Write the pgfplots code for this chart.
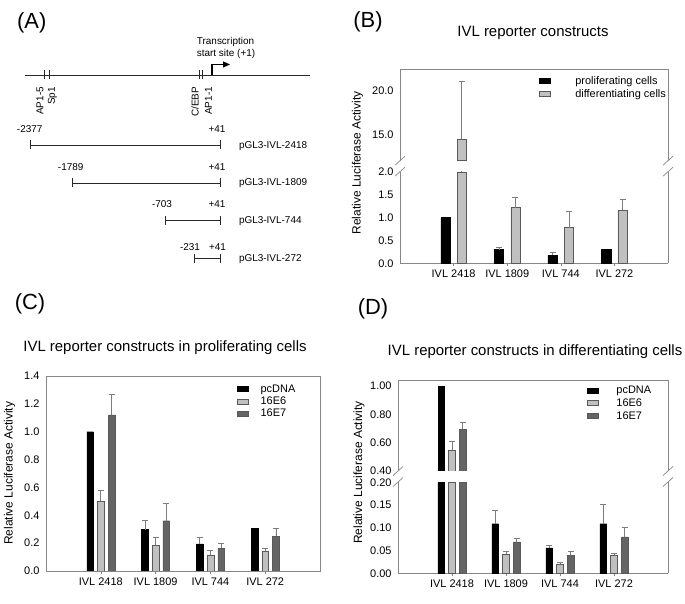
\documentclass[border=0pt]{standalone}
\usepackage{fontspec}
\setmainfont{Liberation Sans}
\usepackage{pgfplots}
\pgfplotsset{compat=1.18}
\usetikzlibrary{arrows.meta}

\definecolor{barlight}{RGB}{192,192,192}
\definecolor{bardark}{RGB}{100,100,100}
\definecolor{axisgray}{RGB}{135,135,135}
\definecolor{errgray}{RGB}{125,125,125}
\definecolor{outl}{RGB}{90,90,90}
\definecolor{diag}{RGB}{40,40,40}

\pgfplotsset{
  panel/.style={
    scale only axis,
    anchor=south west,
    xmin=0, xmax=5,
    xtick={1,2,3,4},
    xticklabels={IVL 2418, IVL 1809, IVL 744, IVL 272},
    tick align=outside,
    major tick length=3bp,
    ytick style={draw=none},
    xtick style={draw=axisgray, line width=0.6bp},
    axis line style={draw=axisgray, line width=0.7bp, -},
    tick label style={font=\fontsize{11}{13}\selectfont},
    /pgf/number format/assume math mode=true,
  },
  errs/.style={
    error bars/.cd, y dir=plus, y explicit,
    error bar style={draw=errgray, line width=0.7bp, xshift=#1},
    error mark options={rotate=90, mark size=3bp, draw=errgray, line width=0.7bp},
  },
  leg/.style={
    legend style={draw=none, fill=none, inner sep=0pt,
      font=\fontsize{11}{13}\selectfont,
      nodes={inner sep=0.6bp},
      row sep=#1},
    legend cell align=left,
    legend image code/.code={\draw[##1] (0bp,-2.5bp) rectangle (11bp,2.5bp);},
  },
}

\begin{document}
\begin{tikzpicture}[x=1bp,y=1bp]
\useasboundingbox (0,0) rectangle (685,604);

% ---------- master axis: panel A and text ----------
\begin{axis}[at={(0bp,0bp)}, anchor=south west, scale only axis,
  width=685bp, height=604bp, xmin=0, xmax=685, ymin=-604, ymax=0,
  hide axis, clip=false]
% main genomic line
\addplot[diag, line width=0.9bp] coordinates {(25,-75) (310,-75)};
% element ticks
\addplot[diag, line width=0.8bp, unbounded coords=jump] coordinates {
  (44.3,-70.5) (44.3,-79.5) (nan,nan)
  (49.3,-70.5) (49.3,-79.5) (nan,nan)
  (199,-70.5) (199,-79.5) (nan,nan)
  (202.6,-70.5) (202.6,-79.5)};
% transcription start arrow
\addplot[black, line width=1.1bp, -{Triangle[length=7bp,width=6bp]}] coordinates {(212,-75) (212,-64.5) (230,-64.5)};
% constructs
\addplot[diag, line width=0.8bp, unbounded coords=jump] coordinates {
  (30.7,-145) (220.3,-145) (nan,nan) (30.7,-140.5) (30.7,-149.5) (nan,nan) (220.3,-140.5) (220.3,-149.5) (nan,nan)
  (72.7,-183) (220.3,-183) (nan,nan) (72.7,-178.5) (72.7,-187.5) (nan,nan) (220.3,-178.5) (220.3,-187.5) (nan,nan)
  (165.7,-220.7) (220.3,-220.7) (nan,nan) (165.7,-216.2) (165.7,-225.2) (nan,nan) (220.3,-216.2) (220.3,-225.2) (nan,nan)
  (194.3,-258.3) (220.3,-258.3) (nan,nan) (194.3,-253.8) (194.3,-262.8) (nan,nan) (220.3,-253.8) (220.3,-262.8)};

\begin{scope}[font=\fontsize{10}{12}\selectfont]
\node at (axis cs:225.5,-41.5) {Transcription};
\node at (axis cs:226,-53.5) {start site (+1)};
\node[rotate=90, anchor=east] at (axis cs:40,-83.5) {AP1-5};
\node[rotate=90, anchor=east] at (axis cs:52.5,-83.5) {Sp1};
\node[rotate=90, anchor=east] at (axis cs:195,-83.5) {C/EBP};
\node[rotate=90, anchor=east] at (axis cs:208.5,-83.5) {AP1-1};
\node at (axis cs:29.7,-129) {-2377};
\node at (axis cs:217,-129) {+41};
\node at (axis cs:70.7,-166.7) {-1789};
\node at (axis cs:217,-166.7) {+41};
\node at (axis cs:162,-204.3) {-703};
\node at (axis cs:217,-204.3) {+41};
\node at (axis cs:190,-246.7) {-231};
\node at (axis cs:217.5,-246.7) {+41};
\node[anchor=west] at (axis cs:235.5,-145.7) {pGL3-IVL-2418};
\node[anchor=west] at (axis cs:235.5,-183.3) {pGL3-IVL-1809};
\node[anchor=west] at (axis cs:235.5,-221) {pGL3-IVL-744};
\node[anchor=west] at (axis cs:235.5,-258.7) {pGL3-IVL-272};
\end{scope}

% panel labels
\begin{scope}[font=\fontsize{22}{26}\selectfont]
\node at (axis cs:31.7,-22.5) {(A)};
\node at (axis cs:368,-22) {(B)};
\node at (axis cs:30,-304) {(C)};
\node at (axis cs:373,-308.5) {(D)};
\end{scope}

% titles
\begin{scope}[font=\fontsize{15}{18}\selectfont]
\node at (axis cs:533,-33) {IVL reporter constructs};
\node at (axis cs:165,-347.5) {IVL reporter constructs in proliferating cells};
\node at (axis cs:535,-352) {IVL reporter constructs in differentiating cells};
\end{scope}

% y labels
\begin{scope}[font=\fontsize{12}{14}\selectfont]
\node[rotate=90] at (axis cs:357.5,-163) {Relative Luciferase Activity};
\node[rotate=90] at (axis cs:9.5,-473.3) {Relative Luciferase Activity};
\node[rotate=90] at (axis cs:359,-472.5) {Relative Luciferase Activity};
\end{scope}

% axis break marks
\addplot[axisgray, line width=0.7bp, unbounded coords=jump] coordinates {
  (395,-165.2) (405,-156.2) (nan,nan) (395,-176.2) (405,-167.2) (nan,nan)
  (663,-165.2) (673,-156.2) (nan,nan) (663,-176.2) (673,-167.2) (nan,nan)
  (393,-475.5) (403,-466.5) (nan,nan) (393,-486.5) (403,-477.5) (nan,nan)
  (663,-475.5) (673,-466.5) (nan,nan) (663,-486.5) (673,-477.5)};
\end{axis}

% ---------- panel B lower ----------
\begin{axis}[panel, at={(400bp,340.7bp)}, width=268bp, height=91.3bp,
  ymin=0, ymax=2, ytick={0,0.5,1,1.5,2},
  axis x line*=bottom, axis y line*=box,
  yticklabel style={/pgf/number format/.cd, fixed, fixed zerofill, precision=1},
  restrict y to domain*=0:2]
\addplot[ybar, bar width=9.3bp, bar shift=-8.2bp, fill=black, draw=black] coordinates {
  (1,1.00) (2,0.30) (3,0.18) (4,0.30)};
\addplot[forget plot, draw=none, mark=none, errs=-8.2bp] coordinates {
  (2,0.30) +- (0,0.06) (3,0.18) +- (0,0.06)};
\addplot[ybar, bar width=9.3bp, bar shift=8.2bp, fill=barlight, draw=outl, errs=8.2bp] coordinates {
  (1,14.45) +- (0,6.65) (2,1.22) +- (0,0.23) (3,0.78) +- (0,0.35) (4,1.16) +- (0,0.25)};
\end{axis}

% ---------- panel B upper ----------
\begin{axis}[panel, at={(400bp,443.3bp)}, width=268bp, height=91.7bp,
  ymin=12, ymax=22.5, ytick={15,20}, xtick=\empty,
  axis x line*=top, axis y line*=box,
  yticklabel style={/pgf/number format/.cd, fixed, fixed zerofill, precision=1},
  restrict y to domain=12:22.5,
  leg=2.5bp,
  legend style={at={(0.519,0.93)}, anchor=north west,
    /tikz/every odd column/.append style={column sep=24bp}}]
\addlegendimage{fill=black, draw=black}
\addlegendentry{proliferating cells}
\addlegendimage{fill=barlight, draw=outl}
\addlegendentry{differentiating cells}
\addplot[forget plot, ybar, bar width=9.3bp, bar shift=8.2bp, fill=barlight, draw=outl, errs=8.2bp] coordinates {
  (1,14.45) +- (0,6.65) (2,1.22) +- (0,0.23) (3,0.78) +- (0,0.35) (4,1.16) +- (0,0.25)};
\end{axis}

% ---------- panel C ----------
\begin{axis}[panel, at={(46bp,33bp)}, width=274bp, height=195bp,
  ymin=0, ymax=1.4, ytick={0,0.2,0.4,0.6,0.8,1.0,1.2,1.4},
  xtick pos=left,
  yticklabel style={/pgf/number format/.cd, fixed, fixed zerofill, precision=1},
  leg=2bp,
  legend style={at={(0.695,0.96)}, anchor=north west,
    /tikz/every odd column/.append style={column sep=12bp}}]
\addplot[ybar, bar width=6.7bp, bar shift=-10.7bp, fill=black, draw=black] coordinates {
  (1,1.00) (2,0.297) (3,0.194) (4,0.304)};
\addlegendentry{pcDNA}
\addplot[forget plot, draw=none, mark=none, errs=-10.7bp] coordinates {
  (2,0.297) +- (0,0.067) (3,0.194) +- (0,0.05)};
\addplot[ybar, bar width=6.7bp, bar shift=0bp, fill=barlight, draw=outl, errs=0bp] coordinates {
  (1,0.50) +- (0,0.08) (2,0.184) +- (0,0.06) (3,0.115) +- (0,0.033) (4,0.141) +- (0,0.019)};
\addlegendentry{16E6}
\addplot[ybar, bar width=6.7bp, bar shift=10.7bp, fill=bardark, draw=outl, errs=10.7bp] coordinates {
  (1,1.12) +- (0,0.146) (2,0.361) +- (0,0.125) (3,0.165) +- (0,0.034) (4,0.249) +- (0,0.06)};
\addlegendentry{16E7}
\end{axis}

% ---------- panel D lower ----------
\begin{axis}[panel, at={(398bp,30.7bp)}, width=270bp, height=91bp,
  ymin=0, ymax=0.2, ytick={0,0.05,0.1,0.15,0.2},
  axis x line*=bottom, axis y line*=box,
  yticklabel style={/pgf/number format/.cd, fixed, fixed zerofill, precision=2},
  restrict y to domain*=0:0.2]
\addplot[ybar, bar width=6.7bp, bar shift=-10.7bp, fill=black, draw=black] coordinates {
  (1,1.00) (2,0.109) (3,0.056) (4,0.109)};
\addplot[forget plot, draw=none, mark=none, errs=-10.7bp] coordinates {
  (2,0.109) +- (0,0.029) (3,0.056) +- (0,0.006) (4,0.109) +- (0,0.043)};
\addplot[ybar, bar width=6.7bp, bar shift=0bp, fill=barlight, draw=outl, errs=0bp] coordinates {
  (1,0.546) +- (0,0.063) (2,0.042) +- (0,0.007) (3,0.020) +- (0,0.004) (4,0.040) +- (0,0.004)};
\addplot[ybar, bar width=6.7bp, bar shift=10.7bp, fill=bardark, draw=outl, errs=10.7bp] coordinates {
  (1,0.696) +- (0,0.045) (2,0.069) +- (0,0.008) (3,0.040) +- (0,0.009) (4,0.080) +- (0,0.022)};
\end{axis}

% ---------- panel D upper ----------
\begin{axis}[panel, at={(398bp,133bp)}, width=270bp, height=91bp,
  ymin=0.4, ymax=1.042, ytick={0.4,0.6,0.8,1.0}, xtick=\empty,
  axis x line*=top, axis y line*=box,
  yticklabel style={/pgf/number format/.cd, fixed, fixed zerofill, precision=2},
  restrict y to domain=0.4:1.042,
  leg=2.5bp,
  legend style={at={(0.701,0.945)}, anchor=north west,
    /tikz/every odd column/.append style={column sep=17bp}}]
\addlegendimage{fill=black, draw=black}
\addlegendentry{pcDNA}
\addlegendimage{fill=barlight, draw=outl}
\addlegendentry{16E6}
\addlegendimage{fill=bardark, draw=outl}
\addlegendentry{16E7}
\addplot[forget plot, ybar, bar width=6.7bp, bar shift=-10.7bp, fill=black, draw=black] coordinates {
  (1,1.00) (2,0.109) (3,0.056) (4,0.109)};
\addplot[forget plot, ybar, bar width=6.7bp, bar shift=0bp, fill=barlight, draw=outl, errs=0bp] coordinates {
  (1,0.546) +- (0,0.063) (2,0.042) +- (0,0.007) (3,0.020) +- (0,0.004) (4,0.040) +- (0,0.004)};
\addplot[forget plot, ybar, bar width=6.7bp, bar shift=10.7bp, fill=bardark, draw=outl, errs=10.7bp] coordinates {
  (1,0.696) +- (0,0.045) (2,0.069) +- (0,0.008) (3,0.040) +- (0,0.009) (4,0.080) +- (0,0.022)};
\end{axis}
\end{tikzpicture}
\end{document}
